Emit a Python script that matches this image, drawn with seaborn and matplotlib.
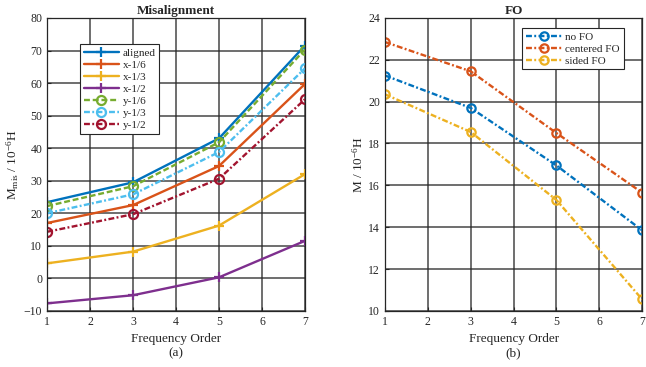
import pandas as pd
import matplotlib
matplotlib.use("Agg")
import matplotlib.pyplot as plt
import seaborn as sns

# ---------------------------
# data
# ---------------------------
orders = [1, 3, 5, 7]

mis_labels = ["aligned", "x-1/6", "x-1/3", "x-1/2", "y-1/6", "y-1/3", "y-1/2"]
aligned = [23.4, 29.5, 43.0, 71.5]
x_16 = [17.0, 22.5, 34.5, 59.7]
x_13 = [4.6, 8.2, 16.2, 32.0]
x_12 = [-7.7, -5.2, 0.3, 11.5]
y_16 = [22.2, 28.3, 41.8, 70.3]
y_13 = [20.0, 25.8, 38.8, 64.5]
y_12 = [14.3, 19.7, 30.6, 55.0]

fo_labels = ["no FO", "centered FO", "sided FO"]
no_fo = [21.25, 19.7, 16.95, 13.85]
centered_fo = [22.85, 21.45, 18.5, 15.65]
sided_fo = [20.35, 18.55, 15.3, 10.55]

# ---------------------------
# style
# ---------------------------
sns.set_style("ticks")
plt.rcParams["font.family"] = ["Liberation Serif", "DejaVu Serif"]
plt.rcParams["mathtext.fontset"] = "custom"
plt.rcParams["mathtext.rm"] = "Liberation Serif"
plt.rcParams["mathtext.it"] = "Liberation Serif:italic"

matlab = ["#0072BD", "#D95319", "#EDB120", "#7E2F8E", "#77AC30", "#4DBEEE", "#A2142F"]
dashdot = (0, (2.5, 1, 0.8, 1))
styles = ["-", "-", "-", "-", (0, (2.5, 1.2)), dashdot, dashdot]
markers = ["+", "+", "+", "+", "o", "o", "o"]

fig = plt.figure(figsize=(6.46, 3.67), dpi=100)
ax1 = fig.add_axes([0.073, 0.153, 0.399, 0.798])
ax2 = fig.add_axes([0.596, 0.153, 0.398, 0.798])


def style_axes(ax):
    ax.grid(True, color="#262626", alpha=0.85, linewidth=1.1)
    ax.set_axisbelow(True)
    ax.tick_params(direction="in", labelsize=8.5, length=3, top=False, right=False,
                   colors="#262626", labelcolor="#262626")
    for s in ax.spines.values():
        s.set_visible(True)
        s.set_color("#262626")
        s.set_linewidth(0.9)


# ---------------------------
# (a) misalignment
# ---------------------------
mis_series = [aligned, x_16, x_13, x_12, y_16, y_13, y_12]
for lab, vals, c, ls, m in zip(mis_labels, mis_series, matlab, styles, markers):
    df = pd.DataFrame({"order": orders, "M": vals})
    sns.lineplot(data=df, x="order", y="M", ax=ax1, color=c, linestyle=ls,
                 marker=m, markersize=6.5, linewidth=1.7,
                 markerfacecolor="none", markeredgecolor=c, markeredgewidth=1.6,
                 label=lab)

ax1.set_xlim(1, 7)
ax1.set_ylim(-10, 80)
ax1.set_xticks(range(1, 8))
ax1.set_yticks(range(-10, 81, 10))
ax1.set_title("Misalignment", fontsize=9.5, fontweight="bold", pad=3)
ax1.set_xlabel("Frequency Order\n(a)", fontsize=9.5, color="#262626")
ax1.set_ylabel(r"M$_{\rm mis}$ / 10$^{-6}$H", fontsize=9.5, color="#262626", labelpad=2)
style_axes(ax1)
leg1 = ax1.legend(loc="upper left", bbox_to_anchor=(0.105, 0.93), fontsize=8,
                  frameon=True, fancybox=False, edgecolor="#262626",
                  handlelength=3.2, handletextpad=0.3, labelspacing=0.2,
                  borderpad=0.35)
leg1.get_frame().set_linewidth(0.8)
leg1.get_frame().set_alpha(1)

# ---------------------------
# (b) FO
# ---------------------------
fo_series = [no_fo, centered_fo, sided_fo]
for lab, vals, c in zip(fo_labels, fo_series, matlab[:3]):
    df = pd.DataFrame({"order": orders, "M": vals})
    sns.lineplot(data=df, x="order", y="M", ax=ax2, color=c, linestyle=dashdot,
                 marker="o", markersize=6, linewidth=1.7,
                 markerfacecolor="none", markeredgecolor=c, markeredgewidth=1.6,
                 label=lab)

ax2.set_xlim(1, 7)
ax2.set_ylim(10, 24)
ax2.set_xticks(range(1, 8))
ax2.set_yticks(range(10, 25, 2))
ax2.set_title("FO", fontsize=9.5, fontweight="bold", pad=3)
ax2.set_xlabel("Frequency Order\n(b)", fontsize=9.5, color="#262626")
ax2.set_ylabel(r"M / 10$^{-6}$H", fontsize=9.5, color="#262626", labelpad=2)
style_axes(ax2)
leg2 = ax2.legend(loc="upper right", bbox_to_anchor=(0.95, 0.985), fontsize=8,
                  frameon=True, fancybox=False, edgecolor="#262626",
                  handlelength=3.2, handletextpad=0.3, labelspacing=0.2,
                  borderpad=0.35)
leg2.get_frame().set_linewidth(0.8)
leg2.get_frame().set_alpha(1)

plt.savefig("out.png", dpi=100)
plt.close()
